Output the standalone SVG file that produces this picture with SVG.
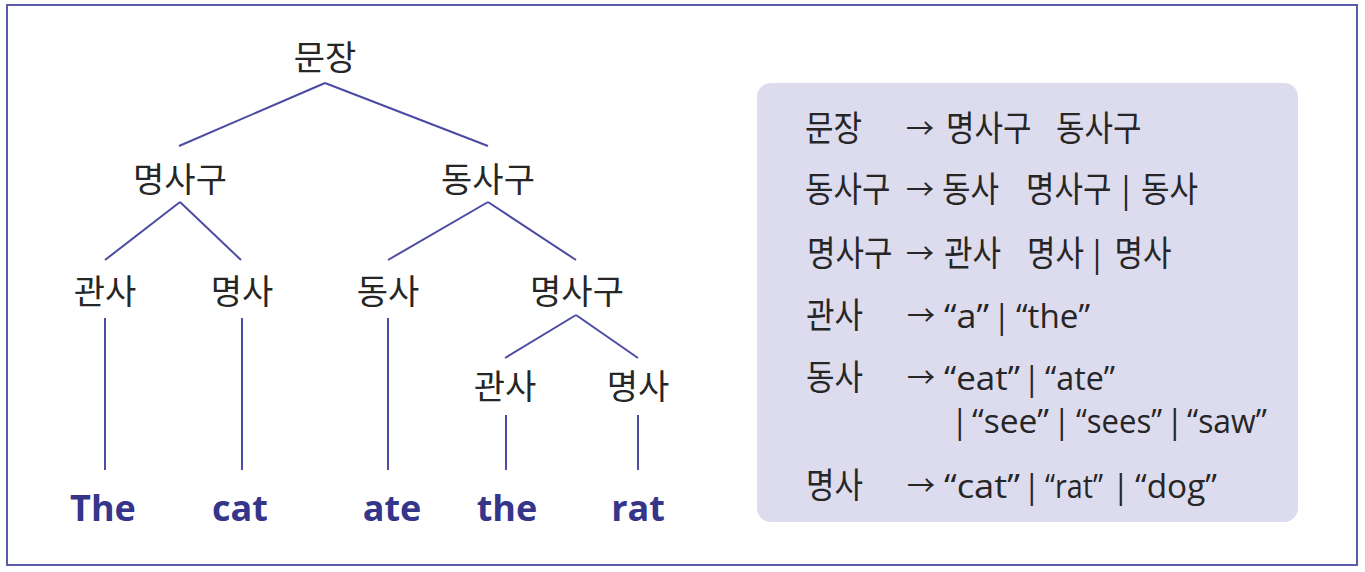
<svg xmlns="http://www.w3.org/2000/svg" width="1365" height="572" viewBox="0 0 1365 572">
<style>
.k{font-family:"Open Sans","Noto Sans CJK KR",sans-serif;fill:#262626;}
.t{font-size:34px;text-anchor:middle;}
.h{font-size:31px;}
.l{font-size:32px;}
.a{font-family:"Noto Sans CJK KR",sans-serif;font-size:28px;fill:#262626;}
.w{font-family:"Open Sans","Noto Sans CJK KR",sans-serif;font-weight:bold;font-size:36px;fill:#35358a;text-anchor:middle;}
.c line{stroke:#4b4ba3;stroke-width:2;}
</style>
<rect x="7" y="5" width="1350" height="560" fill="#fff" stroke="#5c5cae" stroke-width="2"/>
<g class="c" id="connectors">
<line x1="325" y1="83" x2="179" y2="146"/>
<line x1="325" y1="83" x2="488" y2="146"/>
<line x1="180" y1="202" x2="105" y2="260"/>
<line x1="180" y1="202" x2="241" y2="260"/>
<line x1="488" y1="202" x2="388" y2="260"/>
<line x1="488" y1="202" x2="576" y2="260"/>
<line x1="576" y1="315" x2="505" y2="358"/>
<line x1="576" y1="315" x2="638" y2="358"/>
<line x1="105" y1="318" x2="105" y2="470"/>
<line x1="242" y1="318" x2="242" y2="470"/>
<line x1="388" y1="318" x2="388" y2="470"/>
<line x1="506" y1="415" x2="506" y2="470"/>
<line x1="638" y1="415" x2="638" y2="470"/>
</g>
<g id="n-sentence"><text class="k t" x="325" y="70">문장</text></g>
<g id="n-np1"><text class="k t" x="180" y="192">명사구</text></g>
<g id="n-vp"><text class="k t" x="488" y="192">동사구</text></g>
<g id="n-det1"><text class="k t" x="105" y="304">관사</text></g>
<g id="n-noun1"><text class="k t" x="242" y="304">명사</text></g>
<g id="n-verb"><text class="k t" x="388" y="304">동사</text></g>
<g id="n-np2"><text class="k t" x="577" y="304">명사구</text></g>
<g id="n-det2"><text class="k t" x="505" y="399">관사</text></g>
<g id="n-noun2"><text class="k t" x="638" y="399">명사</text></g>
<g id="w-The"><text class="w" x="103" y="521">The</text></g>
<g id="w-cat"><text class="w" x="240" y="521">cat</text></g>
<g id="w-ate"><text class="w" x="392" y="521">ate</text></g>
<g id="w-the"><text class="w" x="507" y="521">the</text></g>
<g id="w-rat"><text class="w" x="638" y="521">rat</text></g>
<g id="rules">
<rect x="757" y="83" width="541" height="439" rx="14" fill="#dddbee"/>
<g transform="translate(0,141) scale(1,1.15)">
<text class="k h" x="805" y="0">문장</text><text class="k h" x="946" y="0">명사구</text><text class="k h" x="1056" y="0">동사구</text>
</g>
<text class="a" x="906" y="139">→</text>
<g transform="translate(0,202) scale(1,1.15)">
<text class="k h" x="805" y="0">동사구</text><text class="k h" x="942" y="0">동사</text><text class="k h" x="1026" y="0">명사구</text><text class="k h" x="1117.5" y="0">|</text><text class="k h" x="1141" y="0">동사</text>
</g>
<text class="a" x="906" y="200">→</text>
<g transform="translate(0,266) scale(1,1.15)">
<text class="k h" x="807" y="0">명사구</text><text class="k h" x="944" y="0">관사</text><text class="k h" x="1027" y="0">명사</text><text class="k h" x="1088.5" y="0">|</text><text class="k h" x="1114.5" y="0">명사</text>
</g>
<text class="a" x="906" y="264">→</text>
<g transform="translate(0,328) scale(1,1.15)">
<text class="k h" x="806" y="0">관사</text>
</g>
<text class="a" x="907" y="326">→</text>
<text class="k l" x="944" y="328" textLength="45" lengthAdjust="spacingAndGlyphs">“a”</text>
<text class="k l" x="993" y="328">|</text>
<text class="k l" x="1016" y="328" textLength="74" lengthAdjust="spacingAndGlyphs">“the”</text>
<g transform="translate(0,390) scale(1,1.15)">
<text class="k h" x="806" y="0">동사</text>
</g>
<text class="a" x="907" y="388">→</text>
<text class="k l" x="944" y="390" textLength="76" lengthAdjust="spacingAndGlyphs">“eat”</text>
<text class="k l" x="1023" y="390">|</text>
<text class="k l" x="1045" y="390" textLength="70" lengthAdjust="spacingAndGlyphs">“ate”</text>
<text class="k l" x="951" y="433">|</text>
<text class="k l" x="972" y="433" textLength="77" lengthAdjust="spacingAndGlyphs">“see”</text>
<text class="k l" x="1053" y="433">|</text>
<text class="k l" x="1076" y="433" textLength="86" lengthAdjust="spacingAndGlyphs">“sees”</text>
<text class="k l" x="1166" y="433">|</text>
<text class="k l" x="1187" y="433" textLength="80" lengthAdjust="spacingAndGlyphs">“saw”</text>
<g transform="translate(0,498) scale(1,1.15)">
<text class="k h" x="806" y="0">명사</text>
</g>
<text class="a" x="907" y="496">→</text>
<text class="k l" x="944" y="498" textLength="76" lengthAdjust="spacingAndGlyphs">“cat”</text>
<text class="k l" x="1023" y="498">|</text>
<text class="k l" x="1045" y="498" textLength="58" lengthAdjust="spacingAndGlyphs">“rat”</text>
<text class="k l" x="1112" y="498">|</text>
<text class="k l" x="1135" y="498" textLength="82" lengthAdjust="spacingAndGlyphs">“dog”</text>
</g>
</svg>
